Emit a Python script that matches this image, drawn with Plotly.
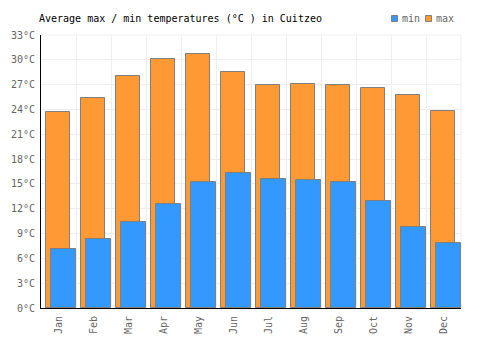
import plotly.graph_objects as go

months = ["Jan", "Feb", "Mar", "Apr", "May", "Jun", "Jul", "Aug", "Sep", "Oct", "Nov", "Dec"]
max_temps = [23.7, 25.4, 28.0, 30.1, 30.7, 28.5, 26.9, 27.1, 27.0, 26.6, 25.7, 23.8]
min_temps = [7.1, 8.35, 10.4, 12.6, 15.25, 16.3, 15.6, 15.5, 15.25, 12.95, 9.8, 7.9]
y_ticks = list(range(0, 34, 3))
y_tick_labels = [f"{v}°C" for v in y_ticks]
series_names = ["min", "max"]
series_colors = ["#3399ff", "#ff9933"]

FONT = "DejaVu Sans Mono"
W, H = 500, 350
L, R, T, B = 41, 39, 35, 42
PW, PH = W - L - R, H - T - B


def px_x(px):
    return (px - L) / PW


def px_y(py):
    return (H - B - py) / PH


fig = go.Figure()
fig.add_trace(go.Bar(
    x=months, y=max_temps, name="max",
    marker=dict(color=series_colors[1], line=dict(color="#808080", width=1)),
    offset=-0.35, width=0.67, showlegend=False,
))
fig.add_trace(go.Bar(
    x=months, y=min_temps, name="min",
    marker=dict(color=series_colors[0], line=dict(color="#808080", width=1)),
    offset=-0.215, width=0.705, showlegend=False,
))

fig.update_layout(
    width=W, height=H,
    margin=dict(l=L, r=R, t=T, b=B, autoexpand=False),
    barmode="overlay",
    plot_bgcolor="white", paper_bgcolor="white",
    font=dict(family=FONT, size=10, color="#666666"),
    title=dict(text="Average max / min temperatures (°C ) in Cuitzeo",
               x=39/W, xanchor="left", y=1-18/H, yanchor="middle",
               font=dict(family=FONT, size=10, color="#000000")),
    showlegend=False,
    bargap=0,
)
fig.update_xaxes(
    type="category", tickson="boundaries", showgrid=True, gridcolor="#eeeeee", gridwidth=1,
    showline=True, linecolor="#000000", linewidth=1, tickangle=-90,
    ticks="", range=[-0.5, 11.5], automargin=False, ticklabelstandoff=3,
    tickfont=dict(family=FONT, size=10, color="#666666"),
)
fig.update_yaxes(
    range=[0, 33], tickvals=y_ticks, ticktext=y_tick_labels,
    showgrid=True, gridcolor="#eeeeee", gridwidth=1,
    showline=True, linecolor="#000000", linewidth=1, ticks="",
    zeroline=False, automargin=False, ticklabelstandoff=3,
    tickfont=dict(family=FONT, size=10, color="#666666"),
)
# right / top grid borders
fig.add_shape(type="line", xref="paper", yref="paper", x0=1, x1=1, y0=0, y1=1,
              line=dict(color="#eeeeee", width=1), layer="below")
fig.add_shape(type="line", xref="paper", yref="paper", x0=0, x1=1, y0=1, y1=1,
              line=dict(color="#eeeeee", width=1), layer="below")

# legend (drawn manually to match compact style)
legend_items = [(series_names[0], series_colors[0], 391.5, 400),
                (series_names[1], series_colors[1], 425.5, 434)]
for name, color, sx, tx in legend_items:
    fig.add_shape(type="rect", xref="paper", yref="paper",
                  x0=px_x(sx), x1=px_x(sx + 6), y0=px_y(15.5), y1=px_y(21.5),
                  fillcolor=color, line=dict(color="#808080", width=1))
    fig.add_annotation(text=name, xref="paper", yref="paper",
                       x=px_x(tx), y=px_y(18.5), xanchor="left", yanchor="middle",
                       showarrow=False,
                       font=dict(family=FONT, size=10, color="#666666"))

fig.write_html("out.html")
